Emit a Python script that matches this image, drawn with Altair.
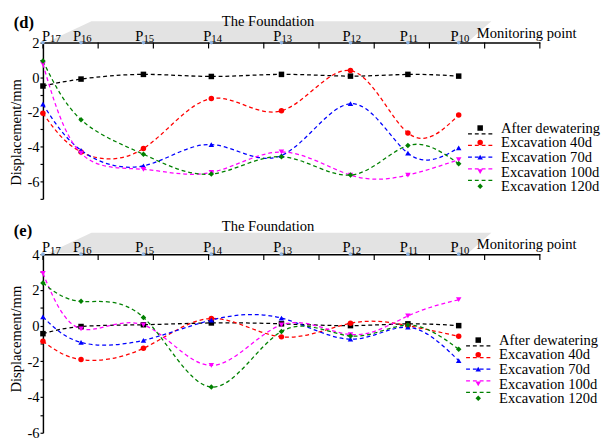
import altair as alt
import pandas as pd

# ---------------- data ----------------
points = ["17", "16", "15", "14", "13", "12", "11", "10"]
dist = [0, 6.9, 18.2, 30.5, 43.2, 55.7, 66.1, 75.3]
x_ticks = [0, 10, 20, 30, 40, 50, 60, 70, 80, 90]

series = ["After dewatering", "Excavation 40d", "Excavation 70d",
          "Excavation 100d", "Excavation 120d"]
colors = ["#000000", "#ff0000", "#0000ff", "#ff00ff", "#008000"]
shapes = ["square", "circle", "triangle-up", "triangle-down", "diamond"]

# panel (d)
d_after = [-0.5, -0.1, 0.17, 0.05, 0.17, 0.07, 0.17, 0.07]
d_40 = [-2.07, -4.3, -4.1, -1.22, -1.93, 0.39, -3.2, -2.17]
d_70 = [-1.55, -4.2, -5.1, -3.87, -4.5, -1.52, -4.37, -4.06]
d_100 = [0.76, -4.37, -5.3, -5.48, -4.3, -5.63, -5.63, -4.74]
d_120 = [0.94, -2.44, -4.43, -5.57, -4.57, -5.63, -3.93, -4.98]

# panel (e)
e_after = [-0.45, -0.05, 0.05, 0.15, 0.1, 0.0, 0.1, 0.0]
e_40 = [-0.87, -1.9, -1.27, 0.4, -0.63, 0.13, 0.0, -0.6]
e_70 = [0.49, -0.94, -0.82, 0.31, 0.42, -0.76, -0.09, -1.96]
e_100 = [2.93, -0.18, 0.04, -2.23, 0.04, -0.5, 0.54, 1.45]
e_120 = [2.39, 1.36, 0.46, -3.44, -0.33, -0.58, 0.03, -1.32]

FONT = "'Liberation Serif', 'Times New Roman', Times, serif"
W = 512
BAND_PATH = "M -1 0.046 L -0.803 -0.046 L 1 -0.046 L 0.895 0.046 Z"


def long_df(vals):
    rows = []
    for s, v in zip(series, vals):
        for p, x, y in zip(points, dist, v):
            rows.append({"series": s, "point": p, "dist": x, "value": y})
    return pd.DataFrame(rows)


def one():
    return pd.DataFrame({"a": [0]})


def panel(tag, vals, ymin, ymax, h, leg_x, leg_y, txt_y, tag_y, title_y):
    df = long_df(vals)
    pdf = pd.DataFrame({"point": points, "dist": dist})
    tdf = pd.DataFrame({"t": x_ticks})

    xs = alt.Scale(domain=[0, 90], nice=False, zero=False)
    ys = alt.Scale(domain=[ymin, ymax], nice=False, zero=False)
    cs = alt.Scale(domain=series, range=colors)
    ss = alt.Scale(domain=series, range=shapes)

    xaxis = alt.Axis(orient="top", labels=False, ticks=False, grid=False,
                     domainColor="black", domainWidth=1.5, title=None)
    yaxis = alt.Axis(values=list(range(ymin, ymax + 1)),
                     labelExpr="datum.value % 2 == 0 ? toString(datum.value) : ''",
                     tickSize=3, tickColor="black", tickWidth=1.2,
                     domainColor="black", domainWidth=1.5, grid=False,
                     labelFont=FONT, labelFontSize=15, labelColor="black",
                     labelPadding=1, title="Displacement/mm", titleFont=FONT,
                     titleFontSize=15, titleFontWeight="normal",
                     titleColor="black", titlePadding=4, titleY=title_y)

    band = alt.Chart(one()).mark_point(
        shape=BAND_PATH, size=208849, filled=True, fill="#e3e3e3",
        opacity=1, strokeWidth=0
    ).encode(x=alt.value(233.5), y=alt.value(-11.5))

    ticks = alt.Chart(tdf).mark_rule(color="black", strokeWidth=1.2).encode(
        x=alt.X("t:Q", scale=xs, axis=xaxis), y=alt.value(0), y2=alt.value(6))

    lines = alt.Chart(df).mark_line(
        interpolate="natural", strokeDash=[4, 3], strokeWidth=1.3
    ).encode(
        x=alt.X("dist:Q", scale=xs, axis=xaxis),
        y=alt.Y("value:Q", scale=ys, axis=yaxis),
        color=alt.Color("series:N", scale=cs, legend=None),
    )

    pts = alt.Chart(df).mark_point(filled=True, size=32, opacity=1).encode(
        x=alt.X("dist:Q", scale=xs, axis=xaxis),
        y=alt.Y("value:Q", scale=ys, axis=None),
        color=alt.Color("series:N", scale=cs, legend=None),
        shape=alt.Shape("series:N", scale=ss, legend=None),
    )

    dots = alt.Chart(pdf).mark_point(filled=True, size=14, color="#8db3e2",
                                     opacity=1).encode(
        x=alt.X("dist:Q", scale=xs, axis=xaxis), y=alt.value(0))

    # label anchor: the first label sits just right of the y axis
    lab = alt.Chart(pdf).transform_calculate(
        lx="datum.dist == 0 ? 1.3 : datum.dist")
    plab = lab.mark_text(
        text="P", align="right", baseline="alphabetic", font=FONT,
        fontSize=15, color="black"
    ).encode(x=alt.X("lx:Q", scale=xs, axis=xaxis), y=alt.value(-2))

    pnum = lab.mark_text(
        align="left", baseline="alphabetic", font=FONT, fontSize=11,
        color="black"
    ).encode(x=alt.X("lx:Q", scale=xs, axis=xaxis), y=alt.value(-0.5),
             text="point:N")

    tag_t = alt.Chart(one()).mark_text(
        text=tag, align="left", baseline="alphabetic", font=FONT,
        fontSize=17, fontWeight="bold", color="black"
    ).encode(x=alt.value(-30), y=alt.value(tag_y))

    found_t = alt.Chart(one()).mark_text(
        text="The Foundation", align="center", baseline="alphabetic",
        font=FONT, fontSize=15, color="black"
    ).encode(x=alt.value(232), y=alt.value(txt_y))

    mon_t = alt.Chart(one()).mark_text(
        text="Monitoring point", align="left", baseline="alphabetic",
        font=FONT, fontSize=15, color="black"
    ).encode(x=alt.value(447), y=alt.value(-5))

    ldf = pd.DataFrame({"series": series})
    ly = alt.Y("series:N", scale=alt.Scale(domain=series,
                                           range=[leg_y, leg_y + 60],
                                           padding=0), axis=None)
    leg_rule = alt.Chart(ldf).mark_rule(strokeDash=[4, 3], strokeWidth=1.3).encode(
        x=alt.value(leg_x), x2=alt.value(leg_x + 25), y=ly,
        color=alt.Color("series:N", scale=cs, legend=None))
    leg_pt = alt.Chart(ldf).mark_point(filled=True, size=32, opacity=1).encode(
        x=alt.value(leg_x + 12.5), y=ly,
        color=alt.Color("series:N", scale=cs, legend=None),
        shape=alt.Shape("series:N", scale=ss, legend=None))
    leg_txt = alt.Chart(ldf).mark_text(
        align="left", baseline="middle", font=FONT, fontSize=15, color="black"
    ).encode(x=alt.value(leg_x + 34), y=ly, text="series:N")

    return alt.layer(
        band, ticks, lines, pts, dots, plab, pnum, tag_t, found_t, mon_t,
        leg_rule, leg_pt, leg_txt
    ).resolve_scale(y="independent").properties(width=W, height=h)


pd_chart = panel("(d)", [d_after, d_40, d_70, d_100, d_120], -7, 2, 161,
                 438, 88, -17, -15, 92)
pe_chart = panel("(e)", [e_after, e_40, e_70, e_100, e_120], -6, 4, 184,
                 436, 88.5, -24, -19, 87)

chart = alt.vconcat(pd_chart, pe_chart, spacing=20).properties(
    padding={"left": 0, "top": 0, "right": 0, "bottom": 0}
).configure_view(stroke=None)

chart.save("out.html", embed_options={"renderer": "svg", "actions": False})
